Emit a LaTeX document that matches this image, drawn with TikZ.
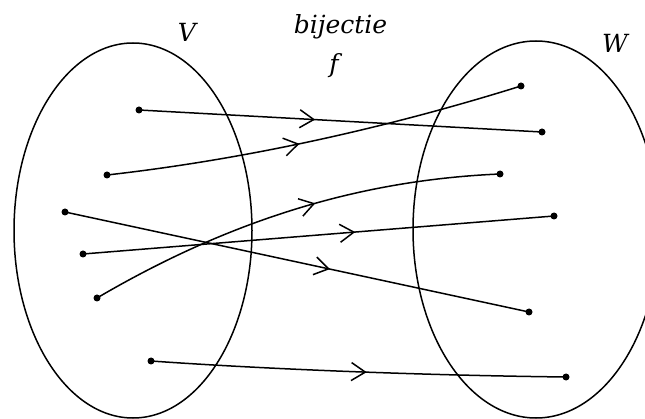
\documentclass[tikz,border=0pt]{standalone}
\usepackage{fontspec}
\newfontfamily\lblfont{DejaVu Serif}
\usetikzlibrary{arrows.meta,decorations.markings}
\begin{document}
\begin{tikzpicture}[x=1pt,y=-1pt,
  setline/.style={line width=1.5pt},
  dot/.style={circle,fill=black,inner sep=0pt,minimum size=7pt},
  lbl/.style={inner sep=0pt,font=\lblfont\itshape\fontsize{25}{30}\selectfont},
  mapto/.style={line width=1.5pt,postaction={decorate},
    decoration={markings,mark=at position #1 with {\arrow{Straight Barb[length=14pt,width=18pt]}}}},
]
\useasboundingbox (0,0) rectangle (645,419);
\begin{scope}
  \clip (0,0) rectangle (645,419);
  \draw[setline] (133,230.5) ellipse [x radius=119pt, y radius=187.5pt];
  \draw[setline] (536,229.5) ellipse [x radius=123pt, y radius=188.5pt];
\end{scope}
% labels
\node[lbl] (lv) at (187,32) {V};
\node[lbl] (lw) at (615,43) {W};
\node[lbl] (lb) at (340.5,26.5) {bijectie};
\node[lbl] (lf) at (334,66) {f};
% points in V
\node[dot] (a1) at (139,110) {};
\node[dot] (a2) at (107,175) {};
\node[dot] (a3) at (65,212) {};
\node[dot] (a4) at (83,254) {};
\node[dot] (a5) at (97,298) {};
\node[dot] (a6) at (151,361) {};
% points in W
\node[dot] (b1) at (521,86) {};
\node[dot] (b2) at (542,132) {};
\node[dot] (b3) at (500,174) {};
\node[dot] (b4) at (554,216) {};
\node[dot] (b5) at (529,312) {};
\node[dot] (b6) at (566,377) {};
% mappings
\draw[mapto=0.437] (a1.center) -- (b2.center);
\draw[mapto=0.46] (a2.center) .. controls (240,160) and (380,130) .. (b1.center);
\draw[mapto=0.571] (a3.center) -- (b5.center);
\draw[mapto=0.578] (a4.center) -- (b4.center);
\draw[mapto=0.56] (a5.center) .. controls (230,220) and (360,180) .. (b3.center);
\draw[mapto=0.52] (a6.center) .. controls (250,368) and (400,375) .. (b6.center);
\end{tikzpicture}
\end{document}
